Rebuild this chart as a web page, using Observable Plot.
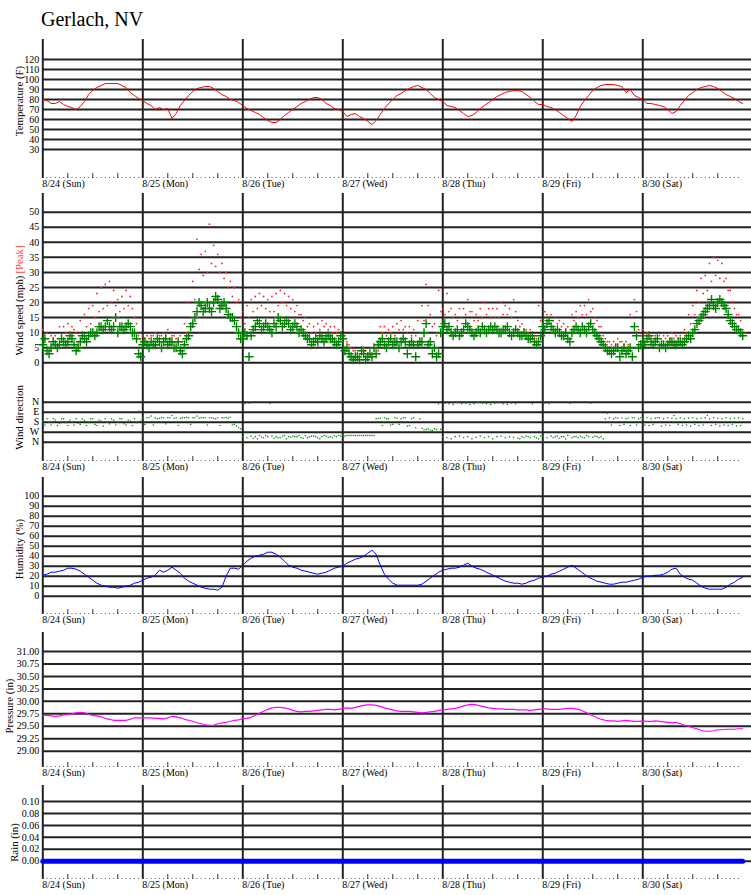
<!DOCTYPE html>
<html>
<head>
<meta charset="utf-8">
<script src="https://cdn.jsdelivr.net/npm/d3@7"></script>
<script src="https://cdn.jsdelivr.net/npm/@observablehq/plot@0.6"></script>
<style>
  body { margin: 0; background: #fff; }
  #chart { position: relative; width: 751px; height: 895px; overflow: hidden; background: #fff; }
  #title { position: absolute; left: 41px; top: 9px; font: 20px/20px "Liberation Serif", "Times New Roman", serif; color: #000; white-space: nowrap; }
  #chart svg { position: absolute; left: 0; }
</style>
</head>
<body>
<div id="chart"><div id="title">Gerlach, NV</div></div>
<script>
// ---- categories / tick labels ----
const dayLabels = ["8/24 (Sun)", "8/25 (Mon)", "8/26 (Tue)", "8/27 (Wed)", "8/28 (Thu)", "8/29 (Fri)", "8/30 (Sat)"];
const dayStarts = [0, 24, 48, 72, 96, 120, 144]; // hours since 8/24 00:00
const tempTicks = [30, 40, 50, 60, 70, 80, 90, 100, 110, 120];
const windTicks = [0, 5, 10, 15, 20, 25, 30, 35, 40, 45, 50];
const dirTicks = [0, 90, 180, 270, 360];
const dirTickLabels = ["N", "E", "S", "W", "N"];
const humTicks = [0, 10, 20, 30, 40, 50, 60, 70, 80, 90, 100];
const presTicks = [29.00, 29.25, 29.50, 29.75, 30.00, 30.25, 30.50, 30.75, 31.00];
const rainTicks = [0.00, 0.02, 0.04, 0.06, 0.08, 0.10];

// ---- hourly series (index = hour since 8/24 00:00) ----
const temperature = [
  80,79,76,76,78,75,73,72,70,73,78,85,89,92,94,96,96,96,96,94,92,87,84,81,
  79,76,74,70,72,70,71,61,66,74,79,84,88,91,92,93,93,91,88,85,83,80,79,77,
  74,71,69,67,65,62,59,57,57,60,64,67,70,73,76,78,80,82,82,80,76,74,71,70,
  68,63,65,66,63,61,58,55,59,65,71,76,80,84,86,89,91,93,94,92,90,86,82,80,
  78,74,73,72,69,66,63,64,67,71,74,77,80,83,85,87,88,89,89,88,85,82,78,75,
  75,73,72,70,67,64,61,58,64,73,79,84,89,92,94,95,95,95,94,93,87,90,84,82,
  80,76,76,75,74,73,70,66,68,74,79,84,87,90,92,93,94,93,91,88,85,83,81,78,76
];
// sustained wind, on the hour
const windSustained = [
  6,4,5,6,6,7,7,8,4,7,8,9,10,10,12,12,12,12,10,12,12,12,10,3,
  6,6,7,6,7,7,6,7,5,4,6,9,13,17,19,18,18,20,21,19,18,15,14,10,
  8,9,9,12,13,12,12,10,12,14,13,13,12,12,11,9,8,7,7,8,8,8,7,7,
  8,5,2,2,1,3,2,2,3,7,6,7,6,7,7,7,6,6,6,7,13,7,5,3,
  12,11,10,10,9,11,12,10,10,10,11,11,11,11,10,11,10,10,10,9,9,8,7,7,
  12,13,12,10,10,9,8,10,12,10,11,12,11,9,7,5,4,4,5,4,3,5,12,5,
  7,8,7,7,5,6,6,7,6,7,7,9,10,13,15,17,19,19,20,20,18,14,12,11,9
];
// sustained wind, on the half hour
const windSustainedHalf = [
  8,3,7,5,8,6,9,6,5,9,7,10,9,12,11,14,11,15,12,11,13,10,8,2,
  7,5,6,8,5,8,7,5,7,3,8,12,15,20,17,20,17,22,18,20,16,15,12,8,
  10,2,11,14,11,13,11,13,15,12,14,11,13,10,10,8,6,8,9,7,9,8,6,9,
  4,3,1,2,4,1,3,5,6,8,5,8,7,5,8,3,7,2,7,10,6,3,2,10,
  13,12,9,11,10,13,11,9,11,12,10,12,12,10,11,12,9,11,9,10,8,9,6,9,
  11,14,11,11,9,10,7,11,11,12,10,13,10,8,6,4,3,5,2,5,4,2,9,6,
  6,9,6,8,6,5,7,6,7,6,8,8,11,14,16,18,21,18,21,19,16,13,11,10
];
// peak gusts: hourly highest and a typical one
const peakHigh = [
  11,10,9,9,12,12,13,12,10,14,16,18,19,23,25,26,27,24,21,22,24,22,15,9,
  9,9,9,10,9,10,11,9,8,9,13,20,27,41,36,37,46,39,36,33,30,27,25,21,
  17,19,21,22,23,22,21,22,23,24,23,22,21,19,16,15,13,12,13,14,13,12,12,11,
  11,7,5,4,3,5,3,3,5,12,12,11,12,13,14,12,12,11,14,19,26,16,13,24,
  18,23,18,16,18,18,21,17,16,18,20,18,18,18,20,19,18,21,14,13,11,11,9,19,
  21,16,16,15,14,13,12,16,17,19,19,21,18,14,12,8,7,7,8,7,7,16,21,11,
  11,10,9,9,9,9,9,10,9,9,11,16,19,24,28,29,33,35,34,33,28,24,18,16,11
];
const peakTypical = [
  8,7,8,8,9,10,10,11,7,10,12,13,15,17,18,19,20,19,17,18,19,18,13,7,
  8,8,9,8,9,9,8,9,7,7,10,15,21,31,29,30,33,32,30,28,25,22,20,15,
  13,15,17,18,19,18,17,17,19,20,19,18,17,16,14,12,10,10,11,12,11,10,10,10,
  9,6,4,3,3,4,3,3,4,10,9,10,9,11,11,10,9,9,10,14,19,12,9,17,
  16,17,15,14,15,16,17,14,14,15,16,15,15,15,16,16,15,17,12,11,10,9,8,14,
  17,15,14,13,12,11,10,14,15,16,16,17,15,12,9,7,6,6,7,6,6,12,17,9,
  9,9,8,8,7,8,8,8,8,8,10,13,16,20,23,24,27,29,28,27,24,20,16,14,10
];
// wind direction in degrees (0 = N at top, 360 = N at bottom)
const windDir = [
  175,150,205,160,190,150,210,175,150,200,165,185,150,210,170,150,195,160,180,150,205,170,150,80,
  140,140,125,140,145,140,140,120,140,145,140,140,140,125,140,140,140,145,140,140,140,135,200,230,
  310,320,305,310,300,320,310,305,310,320,300,310,305,310,320,300,310,305,320,310,305,310,300,300,
  300,300,300,300,300,300,300,300,150,145,140,150,200,145,150,140,210,140,90,235,245,250,240,15,
  310,320,330,310,305,320,310,330,315,305,320,310,330,310,305,320,310,315,325,310,305,320,310,330,
  310,320,305,310,325,310,300,320,310,305,320,310,315,310,310,150,140,150,145,140,150,210,140,150,
  150,140,150,145,140,150,140,145,150,140,150,145,140,150,145,140,150,140,145,150,140,150,145,140,150
];
const windDirHalf = [
  205,180,150,210,150,185,160,205,190,150,210,150,200,160,215,180,150,205,150,195,160,210,185,170,
  200,140,205,150,140,195,140,145,210,140,135,200,140,145,140,205,140,150,210,140,145,205,215,240,
  15,10,325,330,315,300,12,325,320,305,330,315,310,300,325,320,305,310,330,300,315,320,310,305,
  305,300,300,300,300,300,300,300,145,210,150,205,140,200,140,215,150,230,150,250,240,255,245,245,
  10,15,20,5,15,10,20,15,5,10,15,20,10,5,15,20,10,15,330,320,310,15,320,305,
  10,15,320,305,310,330,10,310,320,315,300,10,305,320,330,100,205,140,210,200,145,140,205,140,
  205,210,200,140,215,205,210,120,200,210,205,215,200,210,205,120,210,200,215,205,210,200,215,210
];
const humidity = [
  21,22,24,24,25,26,28,28,27,25,22,19,16,13,11,10,9,9,8,9,10,11,13,14,
  16,18,19,21,26,24,26,29,26,23,18,15,13,11,9,8,7,7,6,9,20,28,28,27,
  31,35,38,40,41,42,44,44,42,39,35,31,29,28,26,25,24,23,22,23,24,26,28,29,
  30,33,35,37,38,40,43,46,42,31,22,17,13,11,11,11,11,11,11,12,15,18,21,24,
  26,27,28,28,29,31,33,30,28,27,25,23,21,19,17,15,14,13,13,12,13,15,16,18,
  19,20,22,23,25,27,29,31,28,25,22,19,17,15,14,13,12,12,13,14,14,15,16,17,
  19,20,20,21,21,22,24,27,28,22,19,17,16,13,10,8,7,7,7,7,9,12,14,17,19
];
const pressure = [
  29.72,29.72,29.71,29.70,29.71,29.73,29.74,29.75,29.77,29.78,29.77,29.74,29.72,29.71,29.69,29.66,29.64,29.62,29.62,29.62,29.62,29.64,29.67,29.67,
  29.67,29.67,29.67,29.66,29.66,29.65,29.67,29.70,29.69,29.67,29.64,29.62,29.60,29.57,29.55,29.53,29.52,29.52,29.55,29.57,29.58,29.60,29.62,29.63,
  29.65,29.66,29.68,29.72,29.76,29.80,29.84,29.87,29.88,29.88,29.87,29.85,29.82,29.80,29.79,29.80,29.80,29.81,29.82,29.83,29.84,29.84,29.83,29.84,
  29.86,29.87,29.86,29.88,29.90,29.92,29.93,29.93,29.92,29.90,29.87,29.85,29.83,29.81,29.80,29.80,29.80,29.79,29.78,29.77,29.78,29.79,29.80,29.82,
  29.83,29.84,29.85,29.86,29.88,29.91,29.93,29.94,29.93,29.91,29.89,29.87,29.86,29.85,29.85,29.84,29.84,29.84,29.83,29.83,29.83,29.82,29.83,29.84,
  29.85,29.85,29.84,29.84,29.84,29.85,29.86,29.86,29.85,29.83,29.79,29.75,29.71,29.67,29.64,29.62,29.61,29.61,29.60,29.61,29.62,29.61,29.60,29.60,
  29.61,29.60,29.60,29.61,29.60,29.59,29.58,29.57,29.58,29.55,29.52,29.50,29.47,29.45,29.42,29.40,29.40,29.41,29.43,29.43,29.44,29.44,29.44,29.45,29.45
];
const rainDaily = [0, 0, 0, 0, 0, 0, 0, 0]; // at each midnight, 8/24 .. 8/31

// ---- layout ----
const W = 751;
const hourDots = d3.range(0, 168);
const sixHourTicks = hourDots.filter(h => h % 6 === 0 && h % 24 !== 0);
const serif = "'Liberation Serif', 'Times New Roman', serif";

function panel(o) {
  const fh = o.height - o.mt - o.mb;
  const marks = [];
  marks.push(Plot.ruleY(o.ticks, {stroke: "#222", strokeWidth: 2}));
  marks.push(Plot.ruleX(dayStarts, {stroke: "#222", strokeWidth: 2}));
  marks.push(Plot.text(o.ticks, {y: d => d, text: o.fmt, frameAnchor: "left", dx: -3.5, textAnchor: "end", fontSize: 10, fill: "#000"}));
  if (o.baseline) {
    marks.push(Plot.ruleX(hourDots, {insetTop: fh - 1, stroke: "#555", strokeWidth: 1}));
    marks.push(Plot.ruleX(sixHourTicks, {insetTop: fh - 5, stroke: "#333", strokeWidth: 1}));
    marks.push(Plot.text(dayStarts, {x: d => d, text: (d, i) => dayLabels[i], frameAnchor: "bottom", dy: 8.5, dx: -0.5, textAnchor: "start", fontSize: 10, fill: "#000"}));
  }
  for (const t of o.titles) {
    marks.push(Plot.text([t.text], {text: d => d, frameAnchor: "left", textAnchor: "middle", lineAnchor: "middle", dx: t.dx ?? -23.3, dy: t.dy, rotate: -90, fontSize: 10.8, fill: t.color || "#000"}));
  }
  marks.push(...o.data);
  const svg = Plot.plot({
    width: W, height: o.height,
    marginLeft: 42.3, marginRight: 0, marginTop: o.mt, marginBottom: o.mb,
    x: {domain: [0, 170.1], axis: null},
    y: {domain: o.domain, axis: null},
    style: {background: "transparent", fontFamily: serif, fontSize: "10px", overflow: "visible", color: "#000"},
    marks
  });
  svg.style.top = o.top + "px";
  document.getElementById("chart").appendChild(svg);
}

const idx = (d, i) => i;
const half = (d, i) => i + 0.5;

// Temperature
panel({
  top: 38, height: 154, mt: 1, mb: 14, domain: [1, 140], ticks: tempTicks, fmt: d => d, baseline: true,
  titles: [{text: "Temperature (F)", dy: -8}],
  data: [Plot.line(temperature, {x: idx, y: d => d, stroke: "#ff0000", strokeWidth: 1})]
});

// Wind speed
panel({
  top: 192, height: 193, mt: 1, mb: 0, domain: [-7.54, 56.2], ticks: windTicks, fmt: d => d, baseline: false,
  titles: [{text: "Wind speed (mph)", dy: 26}, {text: "[Peak]", dy: -30, color: "#ff4040"}],
  data: [
    Plot.dot(peakTypical, {x: half, y: d => d, r: 0.9, fill: "#ff2020", stroke: "none"}),
    Plot.dot(peakHigh, {x: idx, y: d => d, r: 0.9, fill: "#ff2020", stroke: "none"}),
    Plot.dot(windSustainedHalf, {x: half, y: d => d, symbol: "plus", r: 3, stroke: "#008000", strokeWidth: 1.4}),
    Plot.dot(windSustained, {x: idx, y: d => d, symbol: "plus", r: 3, stroke: "#008000", strokeWidth: 1.4})
  ]
});

// Wind direction
panel({
  top: 385, height: 91, mt: 0, mb: 15, domain: [533.7, -150.3], ticks: dirTicks, fmt: (d, i) => dirTickLabels[i], baseline: true,
  titles: [{text: "Wind direction", dy: -6}],
  data: [
    Plot.dot(windDir, {x: idx, y: d => d, r: 0.8, fill: "#1a8c1a", stroke: "none"}),
    Plot.dot(windDirHalf, {x: half, y: d => d, r: 0.8, fill: "#1a8c1a", stroke: "none"})
  ]
});

// Humidity
panel({
  top: 476, height: 155, mt: 1, mb: 17, domain: [-18.3, 118.7], ticks: humTicks, fmt: d => d, baseline: true,
  titles: [{text: "Humidity (%)", dy: 3}],
  data: [Plot.line(humidity, {x: idx, y: d => d, stroke: "#0000ff", strokeWidth: 1})]
});

// Pressure
panel({
  top: 631, height: 153, mt: 1, mb: 17, domain: [28.673, 31.381], ticks: presTicks, fmt: d => d.toFixed(2), baseline: true,
  titles: [{text: "Pressure (in)", dy: 6, dx: -33.3}],
  data: [Plot.line(pressure, {x: idx, y: d => d, stroke: "#ff00ff", strokeWidth: 1.2})]
});

// Rain
panel({
  top: 784, height: 111, mt: 1, mb: 16, domain: [-0.03065, 0.1268], ticks: rainTicks, fmt: d => d.toFixed(2), baseline: true,
  titles: [{text: "Rain (in)", dy: 10, dx: -28.3}],
  data: [Plot.line(rainDaily, {x: (d, i) => i * 24, y: d => d, stroke: "#0000ff", strokeWidth: 5})]
});
</script>
</body>
</html>
